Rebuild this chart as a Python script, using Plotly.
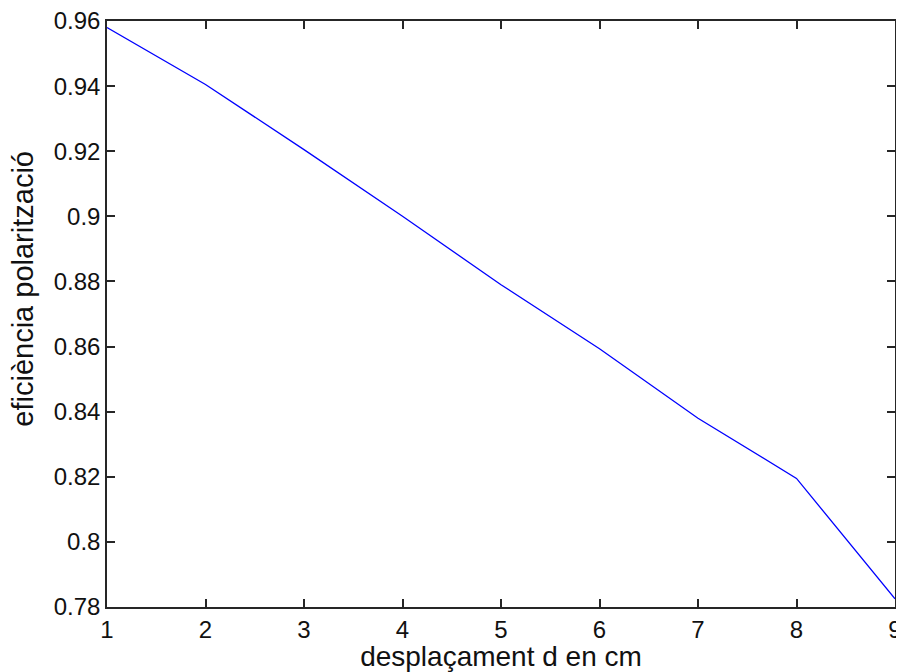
import plotly.graph_objects as go

# desplaçament (cm) i eficiència llegida del gràfic
desplacament = [1, 2, 3, 4, 5, 6, 7, 8, 9]
eficiencia = [0.958, 0.9405, 0.9205, 0.900, 0.879, 0.8593, 0.838, 0.8195, 0.7825]

x_ticks = [1, 2, 3, 4, 5, 6, 7, 8, 9]
y_ticks = [0.78, 0.80, 0.82, 0.84, 0.86, 0.88, 0.90, 0.92, 0.94, 0.96]
y_ticktext = ["0.78", "0.8", "0.82", "0.84", "0.86", "0.88", "0.9", "0.92", "0.94", "0.96"]

fig = go.Figure()
fig.add_trace(go.Scatter(x=desplacament, y=eficiencia, mode="lines",
                         line=dict(color="rgb(0,0,255)", width=1.3)))

axis_style = dict(showgrid=False, zeroline=False, showline=True, linecolor="#262626",
                  linewidth=1.5, mirror="ticks", ticks="inside", ticklen=8,
                  tickwidth=1.5, tickcolor="#262626", automargin=False,
                  ticklabeloverflow="allow")

fig.update_xaxes(range=[1, 9], tickvals=x_ticks, ticklabelstandoff=0,
                 title=dict(text="desplaçament d en cm", standoff=2,
                            font=dict(size=28)), **axis_style)
fig.update_yaxes(range=[0.78, 0.96], tickvals=y_ticks, ticktext=y_ticktext,
                 ticklabelstandoff=0, **axis_style)

# y label as annotation so it sits where the original one does
fig.add_annotation(text="eficiència polarització", textangle=-90,
                   xref="paper", yref="paper", x=-0.106, y=0.544,
                   xanchor="center", yanchor="middle", showarrow=False,
                   font=dict(size=29))

# the page body has an 8px margin, so the figure is sized to fit inside it
fig.update_layout(
    width=896, height=664,
    margin=dict(l=99, r=9, t=13, b=65),
    paper_bgcolor="white", plot_bgcolor="white",
    font=dict(family="Liberation Sans, Arial, sans-serif", size=24, color="#111111"),
    showlegend=False,
)

fig.write_html("out.html")
